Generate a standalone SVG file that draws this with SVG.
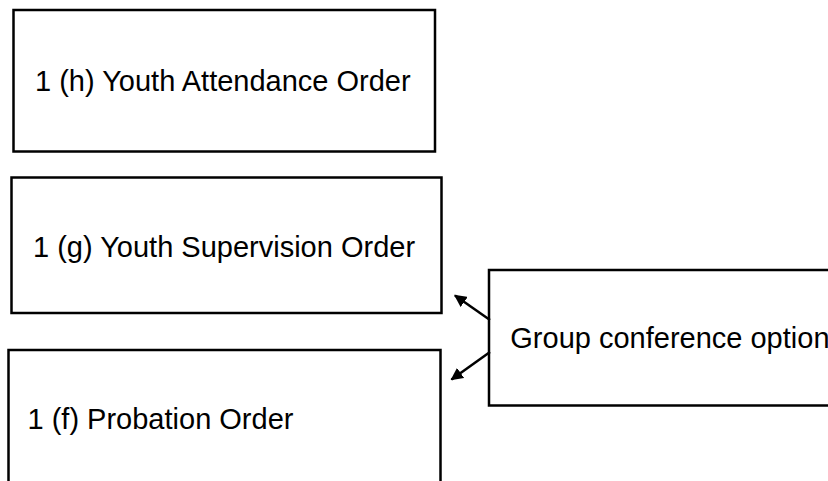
<svg xmlns="http://www.w3.org/2000/svg" width="828" height="481" viewBox="0 0 828 481">
<defs>
<style>
.box{fill:#fff;stroke:#000;stroke-width:2.5}
.lbl{font-family:"Liberation Sans",Arial,sans-serif;font-size:29px;fill:#000}
.con{stroke:#000;stroke-width:2.5;fill:none}
</style>
<marker id="arr" viewBox="0 0 10 10" refX="9" refY="5" markerWidth="5" markerHeight="5" orient="auto" markerUnits="strokeWidth">
<path d="M0,0 L10,5 L0,10 z" fill="#000"/>
</marker>
</defs>
<rect width="828" height="481" fill="#fff"/>
<g id="node-h">
<rect class="box" x="13.5" y="10" width="421.5" height="141.5"/>
<text class="lbl" x="35" y="90.5">1 (h) Youth Attendance Order</text>
</g>
<g id="node-g">
<rect class="box" x="11.5" y="177.5" width="430" height="135.5"/>
<text class="lbl" x="33" y="256.5">1 (g) Youth Supervision Order</text>
</g>
<g id="node-f">
<rect class="box" x="8.5" y="350" width="432" height="150"/>
<text class="lbl" x="27.5" y="429">1 (f) Probation Order</text>
</g>
<g id="node-group">
<rect class="box" x="489" y="270" width="360" height="135.5"/>
<text class="lbl" x="510.3" y="347.5">Group conference option</text>
</g>
<g id="connectors">
<line class="con" x1="490" y1="320" x2="455" y2="295.5" marker-end="url(#arr)"/>
<line class="con" x1="490" y1="352" x2="451.5" y2="379.5" marker-end="url(#arr)"/>
</g>
</svg>
